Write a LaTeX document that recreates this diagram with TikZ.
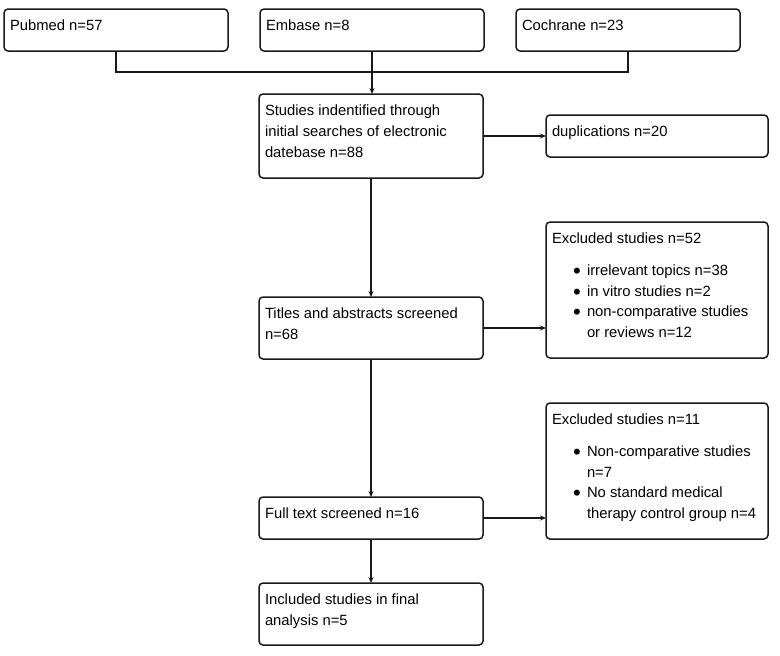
\documentclass[tikz,border=0pt]{standalone}
\usepackage{fontspec}
\setmainfont{Liberation Sans}
\usetikzlibrary{arrows.meta}
\newcommand{\bxtext}[3]{\parbox[c][#2][t]{#1}{\fontsize{14.8pt}{20.8pt}\selectfont\leftskip=6pt\rightskip=0pt plus 1fil\parindent=0pt\vspace*{7pt}\strut #3\par}}
\newcommand{\bitem}[1]{{\leftskip=41pt\noindent\strut\llap{\raisebox{-3pt}{\scalebox{1.5}{\textbullet}}\hspace{6pt}}#1\par}}
\tikzset{
  fbox/.style={draw=black!90, line width=1.5pt, rounded corners=4pt, inner sep=0pt, outer sep=0pt, anchor=north west},
  conn/.style={draw=black!90, line width=2pt},
  arr/.style={conn, -{Stealth[length=6pt,width=5pt]}}
}
\begin{document}
\begin{tikzpicture}[x=1pt,y=1pt]
\useasboundingbox (0,0) rectangle (780,-656);
\node[fbox] (pub) at (4,-9) {\bxtext{224pt}{42pt}{Pubmed n=57}};
\node[fbox] (emb) at (260,-9) {\bxtext{224pt}{42pt}{Embase n=8}};
\node[fbox] (coch) at (516,-9) {\bxtext{224pt}{42pt}{Cochrane n=23}};
\node[fbox] (stud) at (259,-94) {\bxtext{224pt}{84pt}{Studies indentified through\\initial searches of electronic\\datebase n=88}};
\node[fbox] (dup) at (546,-115) {\bxtext{222pt}{42pt}{duplications n=20}};
\node[fbox] (tit) at (259,-297) {\bxtext{224pt}{62pt}{Titles and abstracts screened\\n=68}};
\node[fbox] (exa) at (546,-222) {\bxtext{222pt}{136pt}{Excluded studies n=52\par\vspace{11pt}%
\bitem{irrelevant topics n=38}\bitem{in vitro studies n=2}\bitem{non-comparative studies\\or reviews n=12}}};
\node[fbox] (full) at (259,-497) {\bxtext{224pt}{42pt}{Full text screened n=16}};
\node[fbox] (exb) at (546,-403) {\bxtext{222pt}{136pt}{Excluded studies n=11\par\vspace{11pt}%
\bitem{Non-comparative studies\\n=7}\bitem{No standard medical\\therapy control group n=4}}};
\node[fbox] (incl) at (259,-583) {\bxtext{224pt}{62pt}{Included studies in final\\analysis n=5}};
\coordinate (j) at (372,-72);
\draw[conn] (pub.south) |- (j) -| (coch.south);
\draw[arr] (emb.south) -- (emb.south |- stud.north);
\draw[arr] (stud.east) -- (stud.east -| dup.west);
\draw[arr] (stud.south) -- (tit.north);
\draw[arr] (tit.east) -- (tit.east -| exa.west);
\draw[arr] (tit.south) -- (full.north);
\draw[arr] (full.east) -- (full.east -| exb.west);
\draw[arr] (full.south) -- (incl.north);
\end{tikzpicture}
\end{document}
